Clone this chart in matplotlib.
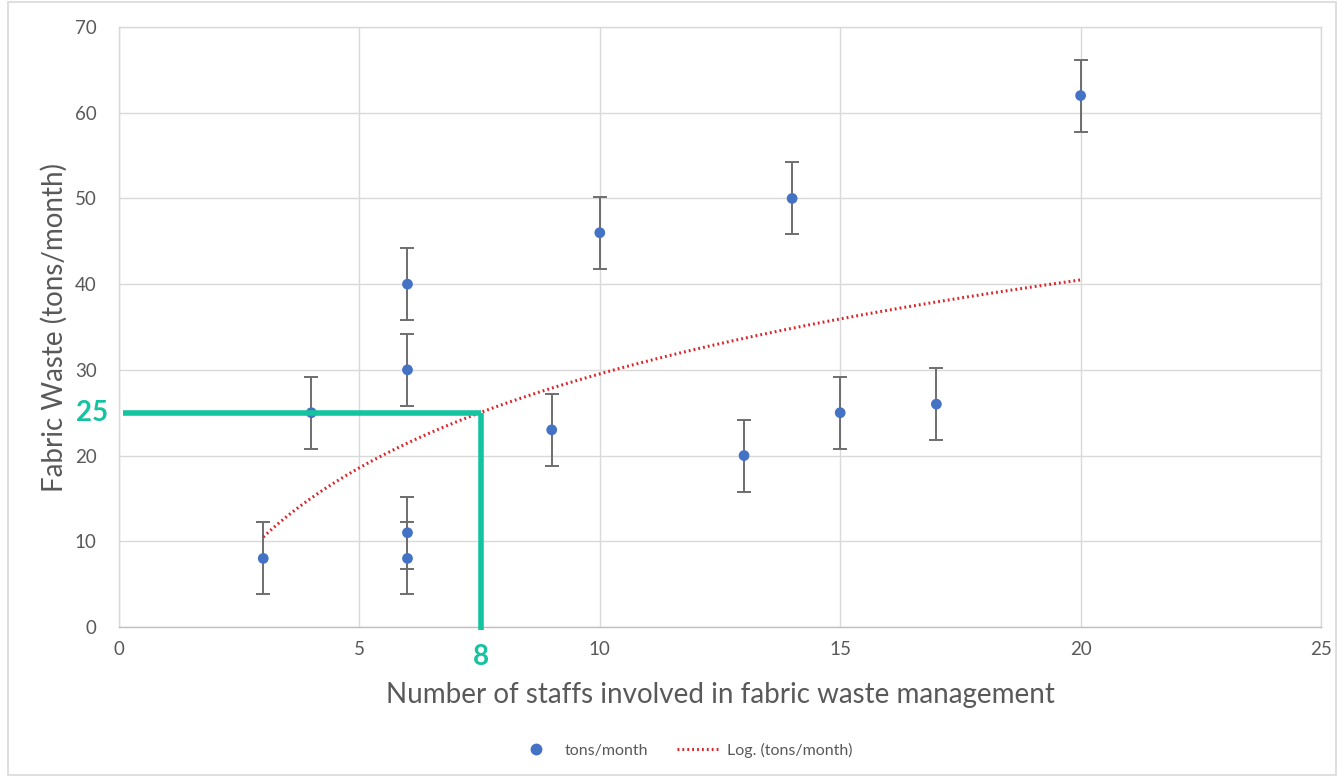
import matplotlib
matplotlib.use("Agg")
import matplotlib.pyplot as plt
import numpy as np
from matplotlib.lines import Line2D
from matplotlib.patches import Rectangle

# ---- data ----
staff = [3, 4, 6, 6, 6, 6, 9, 10, 13, 14, 15, 17, 20]
waste = [8, 25, 40, 30, 11, 8, 23, 46, 20, 50, 25, 26, 62]
err = [4.2] * len(staff)
# logarithmic trendline y = a*ln(x) + b (as shown in the chart)
trend_a = 15.81
trend_b = -6.87
trend_range = (3, 20)
# highlighted reading
mark_x = 7.52
mark_y = 25
mark_x_label = "8"
mark_y_label = "25"
xticks = [0, 5, 10, 15, 20, 25]
yticks = [0, 10, 20, 30, 40, 50, 60, 70]

plt.rcParams['font.family'] = ['Lato', 'DejaVu Sans']
grey = '#595959'
green = '#14C3A0'

fig = plt.figure(figsize=(13.38, 7.77), dpi=100)
fig.patches.append(Rectangle((8/1338, 2/777), 1328/1338, 773/777, transform=fig.transFigure,
                             fill=False, edgecolor='#D9D9D9', linewidth=1.2))
ax = fig.add_axes([119/1338, 1-627/777, (1321-119)/1338, 600/777])

ax.set_xlim(0, 25)
ax.set_ylim(0, 70)
ax.set_xticks(xticks)
ax.set_yticks(yticks)
ax.grid(True, color='#D9D9D9', linewidth=1.0)
ax.set_axisbelow(True)
for s in ax.spines.values():
    s.set_color('#D9D9D9')
    s.set_linewidth(1.0)
ax.spines['bottom'].set_color('#BFBFBF')
ax.tick_params(length=0, colors=grey, labelsize=13.5)
ax.tick_params(axis='y', pad=16)
ax.tick_params(axis='x', pad=10)

ax.errorbar(staff, waste, yerr=err, fmt='none', ecolor='#6E6E6E', elinewidth=1.4,
            capsize=5, capthick=1.4, zorder=3)
ax.scatter(staff, waste, s=60, color='#4472C4', zorder=4, edgecolors='none')

xt = np.linspace(trend_range[0], trend_range[1], 200)
ax.plot(xt, trend_a*np.log(xt) + trend_b, color='#D9262B', linewidth=2.2,
        linestyle=(0, (0.6, 1.0)), zorder=5)

# highlight lines
ax.plot([0.08, mark_x], [mark_y, mark_y], color=green, linewidth=4, solid_capstyle='butt',
        clip_on=False, zorder=6)
ax.plot([mark_x, mark_x], [mark_y, -0.35], color=green, linewidth=4, solid_capstyle='butt',
        clip_on=False, zorder=6)
ax.text(-0.55, mark_y, mark_y_label, color=green, fontsize=20, fontweight='bold',
        ha='center', va='center', clip_on=False)
ax.text(mark_x, -3.5, mark_x_label, color=green, fontsize=20, fontweight='bold',
        ha='center', va='center', clip_on=False)

ax.set_xlabel('Number of staffs involved in fabric waste management', fontsize=20,
              color=grey, labelpad=17)
ax.set_ylabel('Fabric Waste (tons/month)', fontsize=20, color=grey, labelpad=5)

handles = [Line2D([], [], marker='o', linestyle='none', color='#4472C4', markersize=7.5),
           Line2D([], [], color='#D9262B', linewidth=2.2, linestyle=(0, (0.6, 1.0)))]
fig.legend(handles, ['tons/month', 'Log. (tons/month)'], loc='center',
           bbox_to_anchor=(0.511, 1-750/777), ncol=2, frameon=False, fontsize=11.5,
           labelcolor=grey, handlelength=2.6, handletextpad=0.5, columnspacing=1.8)

fig.savefig('out.png', dpi=100)
